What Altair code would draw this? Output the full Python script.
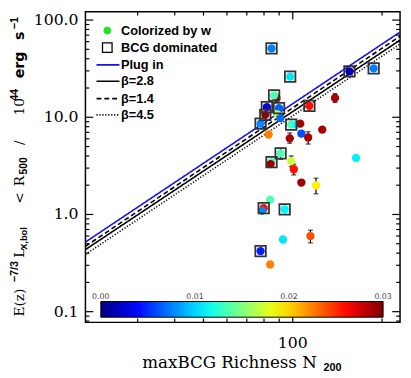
import altair as alt
import pandas as pd

# ---------------- data ----------------
richness = [84.8, 98.0, 155.3, 187.4, 88.1, 86.5, 81.8, 89.9, 80.8, 88.8,
            90.8, 77.9, 98.8, 103.0, 106.0, 82.9, 106.9, 97.7, 112.7, 125.7,
            138.8, 113.8, 91.0, 84.8, 84.2, 98.8, 100.8, 106.9, 119.8, 163.4,
            83.9, 79.8, 78.9, 93.9, 92.7, 114.7, 77.9, 83.9]
lx = [51.2, 26.2, 29.6, 31.8, 15.8, 16.8, 12.7, 12.4, 10.6, 10.7,
      9.8, 8.6, 8.4, 8.4, 8.6, 6.65, 6.8, 6.07, 6.2, 7.46,
      15.8, 13.1, 4.26, 3.46, 3.3, 3.54, 2.92, 2.13, 1.99, 3.82,
      1.42, 1.16, 1.09, 1.13, 0.553, 0.60, 0.42, 0.306]
w = [0.0075, 0.0105, 0.0015, 0.0075, 0.029, 0.0135, 0.003, 0.0065, 0.029, 0.0168,
     0.0068, 0.0078, 0.0135, 0.011, 0.029, 0.0225, 0.006, 0.0288, 0.0288, 0.0288,
     0.0288, 0.0258, 0.0135, 0.0135, 0.029, 0.0172, 0.0258, 0.029, 0.0192, 0.0108,
     0.0135, 0.0258, 0.0078, 0.011, 0.0105, 0.024, 0.0045, 0.0225]
bcg = [True, True, True, True, False, True, True, True, True, False,
       False, True, True, False, False, False, False, False, False, False,
       False, True, True, True, False, False, False, False, False, False,
       False, True, False, True, False, False, True, False]

err_richness = [97.7, 112.7, 138.8, 113.8, 91.0, 98.8, 100.8, 119.8, 114.7]
err_lo = [5.4, 5.3, 14.2, 11.5, 3.7, 3.1, 2.55, 1.63, 0.51]
err_hi = [6.9, 7.1, 17.5, 14.9, 4.8, 4.0, 3.3, 2.36, 0.69]

line_richness = [20, 230]
plug_in = [0.52, 75.3]
beta_28 = [0.435, 62.2]
beta_14 = [0.47, 68.2]
beta_45 = [0.388, 56.7]

legend_labels = ["Colorized by w", "BCG dominated", "Plug in", "β=2.8", "β=1.4", "β=4.5"]
colorbar_ticks = [0.0, 0.01, 0.02, 0.03]
colorbar_minor = [0.005, 0.01, 0.015, 0.02, 0.025]
x_tick_labels = [100]
y_tick_labels = [0.1, 1, 10, 100]
x_major = [100]
x_minor = [30, 40, 50, 60, 70, 80, 90, 200]
y_major = [0.1, 1, 10, 100]
y_minor = [0.08, 0.09, 0.2, 0.3, 0.4, 0.5, 0.6, 0.7, 0.8, 0.9,
           2, 3, 4, 5, 6, 7, 8, 9, 20, 30, 40, 50, 60, 70, 80, 90]

ytitle_text = ["E(z)", "\u22127/3", "L", "X,bol", "<", "R", "500", "/", "10", "44", "erg", "s", "\u22121"]
xtitle_text = ["maxBCG  Richness  N", "200"]

# ---------------- layout / style ----------------
W, H = 321, 317
SERIF = "DejaVu Serif"
SANS = "Liberation Sans"
DSANS = "DejaVu Sans"
xscale = alt.Scale(type="log", domain=[20, 230], nice=False)
yscale = alt.Scale(type="log", domain=[0.0776, 122], nice=False)
jet_stops = [0, 0.00375, 0.01125, 0.01875, 0.02625, 0.03]
jet_colors = ["#00007f", "#0000ff", "#00ffff", "#ffff00", "#ff0000", "#7f0000"]
CB_X, CB_Y, CB_LEN, CB_THICK = 15.7, 295.7, 288, 16

pts = pd.DataFrame({"N": richness, "L": lx, "w": w, "bcg": bcg})
errs = pd.DataFrame({"N": err_richness, "lo": err_lo, "hi": err_hi})
one = pd.DataFrame({"a": [0]})

def X(f):
    return alt.X(f, scale=xscale, axis=None)

def Y(f):
    return alt.Y(f, scale=yscale, axis=None)

layers = []

# fit lines
line_styles = [(plug_in, "#1010ff", [1, 0]), (beta_28, "black", [1, 0]),
               (beta_14, "black", [5, 3]), (beta_45, "black", [1.2, 1.8])]
for vals, col, dash in line_styles:
    df = pd.DataFrame({"N": line_richness, "L": vals})
    layers.append(alt.Chart(df).mark_line(color=col, strokeWidth=1.6, strokeDash=dash, clip=True).encode(
        x=X("N:Q"), y=Y("L:Q")))

# error bars
layers.append(alt.Chart(errs).mark_rule(color="black", strokeWidth=1.2).encode(
    x=X("N:Q"), y=Y("lo:Q"), y2="hi:Q"))
for f in ["lo", "hi"]:
    layers.append(alt.Chart(errs).mark_tick(color="black", orient="horizontal", size=5, thickness=1.2).encode(
        x=X("N:Q"), y=Y(f + ":Q")))

# points
layers.append(alt.Chart(pts).mark_point(filled=True, shape="circle", size=72, opacity=1, strokeWidth=0).encode(
    x=X("N:Q"), y=Y("L:Q"),
    color=alt.Color("w:Q", scale=alt.Scale(domain=jet_stops, range=jet_colors, interpolate="rgb"),
                    legend=alt.Legend(orient="none", legendX=CB_X, legendY=CB_Y, direction="horizontal",
                                      gradientLength=CB_LEN, gradientThickness=CB_THICK, values=colorbar_ticks,
                                      labelOpacity=0, title=None, gradientStrokeColor="black",
                                      gradientStrokeWidth=1, padding=0))))

# BCG squares
layers.append(alt.Chart(pts).transform_filter("datum.bcg").mark_point(
    shape="square", filled=False, size=115, stroke="#333", strokeWidth=1.8, opacity=1).encode(
    x=X("N:Q"), y=Y("L:Q")))

# tick labels (placed through the scales)
layers.append(alt.Chart(pd.DataFrame({"v": y_tick_labels})).transform_calculate(
    t="format(datum.v, '.1f')").mark_text(
    align="right", baseline="middle", font=SERIF, fontSize=16, color="black").encode(
    y=Y("v:Q"), x=alt.value(-7), text="t:N"))
layers.append(alt.Chart(pd.DataFrame({"v": x_tick_labels})).transform_calculate(
    t="format(datum.v, 'd')").mark_text(
    align="center", baseline="alphabetic", font=SERIF, fontSize=16, color="black").encode(
    x=X("v:Q"), y=alt.value(H + 26), text="t:N"))

# colorbar labels above the bar, small ticks on its top edge
for v in colorbar_ticks:
    layers.append(alt.Chart(pd.DataFrame({"t": [f"{v:.2f}"]})).mark_text(
        align="center", baseline="alphabetic", font=DSANS, fontSize=8, color="#444").encode(
        text="t:N", x=alt.value(CB_X + CB_LEN * v / 0.03), y=alt.value(CB_Y - 3)))
for v in colorbar_minor:
    layers.append(alt.Chart(one).mark_rule(color="#333", strokeWidth=1).encode(
        x=alt.value(CB_X + CB_LEN * v / 0.03), y=alt.value(CB_Y), y2=alt.value(CB_Y + 3)))

# frame ticks (inward)
def tick_layer(vals, axis, side, length):
    df = pd.DataFrame({"v": vals})
    if axis == "y":
        enc = dict(y=Y("v:Q"))
        if side == 0:
            enc.update(x=alt.value(0), x2=alt.value(length))
        else:
            enc.update(x=alt.value(W), x2=alt.value(W - length))
    else:
        enc = dict(x=X("v:Q"))
        if side == 0:
            enc.update(y=alt.value(H), y2=alt.value(H - length))
        else:
            enc.update(y=alt.value(0), y2=alt.value(length))
    return alt.Chart(df).mark_rule(color="black", strokeWidth=1.2).encode(**enc)

for side in [0, 1]:
    layers.append(tick_layer(y_major, "y", side, 8))
    layers.append(tick_layer(y_minor, "y", side, 4))
    layers.append(tick_layer(x_major, "x", side, 8))
    layers.append(tick_layer(x_minor, "x", side, 4))

# legend (manual)
leg_y = [19.3, 36.7, 54.3, 71, 88.7, 105.3]
layers.append(alt.Chart(one).mark_point(filled=True, shape="circle", size=60, color="#22e022", opacity=1).encode(
    x=alt.value(22.3), y=alt.value(leg_y[0])))
layers.append(alt.Chart(one).mark_point(shape="square", filled=False, size=95, stroke="black", strokeWidth=1.3, opacity=1).encode(
    x=alt.value(22.3), y=alt.value(leg_y[1])))
for i, (vals, col, dash) in enumerate(line_styles):
    layers.append(alt.Chart(one).mark_rule(color=col, strokeWidth=1.6, strokeDash=dash).encode(
        x=alt.value(11.3), x2=alt.value(34.7), y=alt.value(leg_y[2 + i])))
for lab, yy in zip(legend_labels, leg_y):
    layers.append(alt.Chart(pd.DataFrame({"t": [lab]})).mark_text(
        align="left", baseline="middle", font=SANS, fontWeight="bold", fontSize=13, color="black").encode(
        text="t:N", x=alt.value(36.3), y=alt.value(yy)))

# y title pieces: (start y, baseline x, size, font, weight)
ytitle_layout = [(311, -63, 14, SERIF, "normal"), (276, -69, 11, SANS, "bold"),
                 (251, -63, 14, SERIF, "normal"), (243, -60, 9.5, SANS, "bold"),
                 (196, -63, 14, SERIF, "normal"), (178, -63, 14, SERIF, "normal"),
                 (166, -60, 10.5, SANS, "bold"), (136, -63, 14, SERIF, "normal"),
                 (106, -63, 14, SERIF, "normal"), (91, -69, 11, SANS, "bold"),
                 (68, -63, 14.5, DSANS, "bold"), (29, -63, 14.5, DSANS, "bold"),
                 (18, -69, 11, SANS, "bold")]
for txt, (yy, xx, fs, fn, fw) in zip(ytitle_text, ytitle_layout):
    layers.append(alt.Chart(pd.DataFrame({"t": [txt]})).mark_text(
        align="left", baseline="alphabetic", angle=270, font=fn, fontWeight=fw, fontSize=fs, color="black").encode(
        text="t:N", x=alt.value(xx), y=alt.value(yy)))

# x title
xtitle_layout = [(58, H + 47, 17, SERIF, "normal"), (243, H + 50, 11, SANS, "bold")]
for txt, (xx, yy, fs, fn, fw) in zip(xtitle_text, xtitle_layout):
    layers.append(alt.Chart(pd.DataFrame({"t": [txt]})).mark_text(
        align="left", baseline="alphabetic", font=fn, fontWeight=fw, fontSize=fs, color="black").encode(
        text="t:N", x=alt.value(xx), y=alt.value(yy)))

chart = alt.layer(*layers).properties(
    width=W, height=H,
    padding={"left": 79, "top": 0, "right": 3, "bottom": 53},
    autosize=alt.AutoSizeParams(type="none"),
).configure_view(stroke="black", strokeWidth=1.5)

chart.save("out.html", embed_options={"renderer": "svg", "actions": False})
